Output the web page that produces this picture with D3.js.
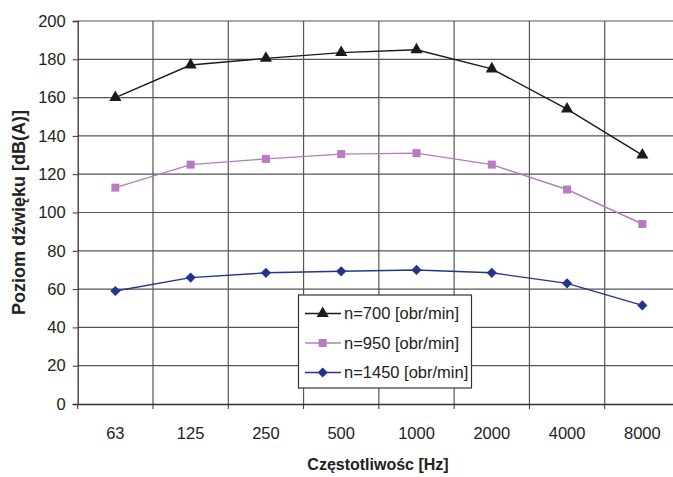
<!DOCTYPE html>
<html><head><meta charset="utf-8">
<script src="https://cdn.jsdelivr.net/npm/d3@7"></script>
<style>
html,body{margin:0;padding:0;background:#fff;}
svg{display:block;font-family:"Liberation Sans",Arial,sans-serif;}
</style></head>
<body>
<svg id="chart" width="673" height="477"></svg>
<script>
const categories = ["63","125","250","500","1000","2000","4000","8000"];
const series700  = [160, 177, 180.5, 183.5, 185, 175, 154, 130];
const series950  = [113, 125, 128, 130.5, 131, 125, 112, 94];
const series1450 = [59, 66, 68.5, 69.3, 70, 68.5, 63, 51.5];
const seriesNames = ["n=700 [obr/min]", "n=950 [obr/min]", "n=1450 [obr/min]"];
const yTicks = [0,20,40,60,80,100,120,140,160,180,200];
const xTitle = "Częstotliwośc [Hz]";
const yTitle = "Poziom dźwięku [dB(A)]";

const series = [
  {name: seriesNames[0], values: series700, color: "#1a1a1a", symbol: d3.symbolTriangle, size: 64, rot: 0},
  {name: seriesNames[1], values: series950, color: "#b77cbf", symbol: d3.symbolSquare, size: 64, rot: 0},
  {name: seriesNames[2], values: series1450, color: "#23358a", symbol: d3.symbolSquare, size: 52, rot: 45}
];

const svg = d3.select("#chart");
const m = {left: 77.7, right: 680, top: 21, bottom: 404};

const x = d3.scaleBand().domain(categories).range([m.left, m.right]);
const y = d3.scaleLinear().domain([0, 200]).range([m.bottom, m.top]);

// horizontal gridlines
svg.append("g").selectAll("line").data(yTicks.filter(d => d > 0)).join("line")
  .attr("x1", m.left).attr("x2", m.right)
  .attr("y1", d => y(d)).attr("y2", d => y(d))
  .attr("stroke", "#555").attr("stroke-width", 1.2);

// vertical gridlines at band boundaries
const bounds = categories.slice(1).map(c => x(c));
svg.append("g").selectAll("line").data(bounds).join("line")
  .attr("x1", d => d).attr("x2", d => d)
  .attr("y1", m.top).attr("y2", m.bottom)
  .attr("stroke", "#555").attr("stroke-width", 1.2);

// y axis
const yAxis = svg.append("g").attr("transform", `translate(${m.left},0)`)
  .call(d3.axisLeft(y).tickValues(yTicks).tickSize(5).tickPadding(7));
yAxis.select(".domain").attr("stroke", "#333").attr("stroke-width", 1.3);
yAxis.selectAll(".tick line").attr("stroke", "#333");
yAxis.selectAll("text").attr("font-size", 16.5).attr("fill", "#222")
  .attr("font-family", "Liberation Sans, Arial, sans-serif");

// x axis
const xAxis = svg.append("g").attr("transform", `translate(0,${m.bottom})`)
  .call(d3.axisBottom(x).tickSize(0).tickPadding(23));
xAxis.select(".domain").attr("stroke", "#333").attr("stroke-width", 1.3);
xAxis.selectAll("text").attr("font-size", 16.5).attr("fill", "#222")
  .attr("font-family", "Liberation Sans, Arial, sans-serif");
// tick marks at band boundaries
svg.append("g").selectAll("line").data([m.left].concat(bounds)).join("line")
  .attr("x1", d => d).attr("x2", d => d)
  .attr("y1", m.bottom).attr("y2", m.bottom + 5)
  .attr("stroke", "#333");

// series
const line = d3.line().x((d, i) => x(categories[i]) + x.bandwidth() / 2).y(d => y(d));
series.forEach(s => {
  svg.append("path").datum(s.values).attr("d", line)
    .attr("fill", "none").attr("stroke", s.color).attr("stroke-width", 1.4);
  svg.append("g").selectAll("path").data(s.values).join("path")
    .attr("d", d3.symbol().type(s.symbol).size(s.size))
    .attr("transform", (d, i) => `translate(${x(categories[i]) + x.bandwidth() / 2},${y(d)}) rotate(${s.rot})`)
    .attr("fill", s.color);
});

// legend
const lg = svg.append("g");
lg.append("rect").attr("x", 298.5).attr("y", 295).attr("width", 173).attr("height", 93)
  .attr("fill", "#fff").attr("stroke", "#333").attr("stroke-width", 1.2);
series.forEach((s, i) => {
  const cy = 313.5 + i * 29.5;
  lg.append("line").attr("x1", 305).attr("x2", 341).attr("y1", cy).attr("y2", cy)
    .attr("stroke", s.color).attr("stroke-width", 1.4);
  lg.append("path").attr("d", d3.symbol().type(s.symbol).size(s.size)())
    .attr("transform", `translate(322.7,${cy}) rotate(${s.rot})`).attr("fill", s.color);
  lg.append("text").attr("x", 344).attr("y", cy).attr("dy", "0.35em")
    .attr("font-size", 16.5).attr("fill", "#222").text(s.name);
});

// axis titles
svg.append("text").attr("x", 378).attr("y", 464).attr("dy", "0.35em")
  .attr("text-anchor", "middle").attr("font-size", 16).attr("font-weight", "bold")
  .attr("fill", "#222").text(xTitle);
svg.append("text").attr("transform", "translate(19,212.5) rotate(-90)")
  .attr("dy", "0.35em").attr("text-anchor", "middle").attr("font-size", 18)
  .attr("font-weight", "bold").attr("fill", "#222").text(yTitle);
</script>
</body></html>
